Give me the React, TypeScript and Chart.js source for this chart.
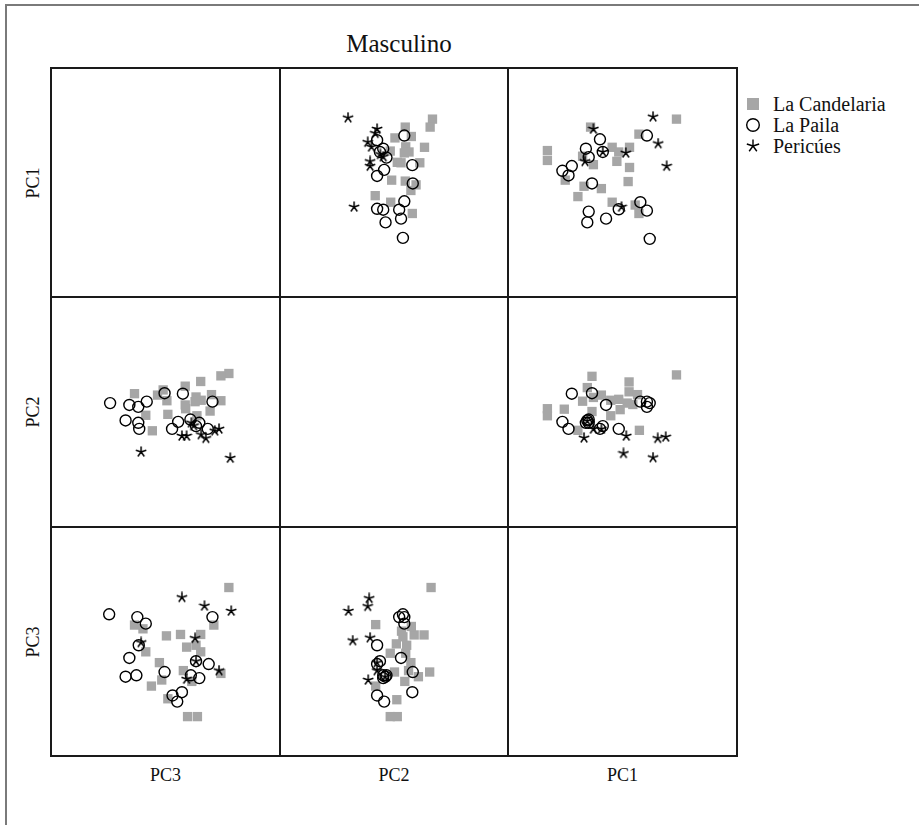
import React, { useEffect, useRef } from "react";
import { Chart, registerables } from "chart.js";
Chart.register(...registerables);

type Pair = [number, number];

// ---------------- data ----------------
const title = "Masculino";
const groups = ["La Candelaria", "La Paila", "Pericúes"];
const rowVars = ["PC1", "PC2", "PC3"]; // variable on the y axis of each row
const colVars = ["PC1", "PC2", "PC3"]; // variable on the x axis of each column
const colLabels = ["PC3", "PC2", "PC1"]; // labels printed under the columns

// PC2 (x) vs PC1 (y)
const candelariaPC2PC1: Pair[] = [
  [0.82, 1.35], [0.77, 1.18], [0.24, 1.18], [0.02, 0.95], [0.37, 0.98], [0.65, 0.75],
  [0.25, 0.76], [0.22, 0.63], [0.32, 0.65], [-0.08, 0.67], [0.07, 0.43], [0.15, 0.42],
  [0.55, 0.42], [-0.05, 0.05], [0.24, 0.03], [0.47, -0.05], [0.36, -0.17], [-0.4, -0.28],
  [-0.07, -0.42], [0.39, -0.66],
];
const pailaPC2PC1: Pair[] = [
  [0.22, 1.0], [-0.36, 0.9], [-0.23, 0.72], [-0.3, 0.65], [-0.16, 0.53], [0.39, 0.37],
  [-0.21, 0.27], [-0.36, 0.14], [0.4, -0.02], [0.22, -0.4], [-0.36, -0.56], [-0.23, -0.58],
  [0.11, -0.58], [0.15, -0.77], [-0.18, -0.85], [0.19, -1.18],
];
const pericuesPC2PC1: Pair[] = [
  [-0.98, 1.38], [-0.36, 1.14], [-0.4, 1.05], [-0.56, 0.86], [-0.48, 0.76], [-0.29, 0.6],
  [-0.23, 0.55], [-0.51, 0.45], [-0.51, 0.35], [-0.85, -0.52],
];

// PC3 (x) vs PC1 (y)
const candelariaPC3PC1: Pair[] = [
  [1.15, 1.35], [-0.68, 1.18], [0.35, 1.03], [-1.6, 0.68], [-1.6, 0.47], [-0.22, 0.75],
  [-0.08, 0.65], [0.15, 0.75], [-0.12, 0.45], [-0.62, 0.38], [-0.85, 0.56], [0.15, 0.32],
  [-1.22, 0.05], [-0.82, -0.08], [-0.45, -0.13], [0.12, 0.02], [-0.95, -0.3], [-0.22, -0.42],
  [0.27, -0.48], [0.35, -0.66],
];
const pailaPC3PC1: Pair[] = [
  [0.52, 1.0], [-0.48, 0.92], [-0.78, 0.72], [-0.42, 0.65], [-0.72, 0.54], [-1.08, 0.35],
  [-1.28, 0.25], [-1.15, 0.15], [-0.65, -0.02], [0.38, -0.42], [0.52, -0.6], [-0.08, -0.57],
  [-0.72, -0.62], [-0.75, -0.85], [-0.35, -0.77], [0.58, -1.2],
];
const pericuesPC3PC1: Pair[] = [
  [0.65, 1.4], [-0.62, 1.14], [0.76, 0.83], [0.07, 0.63], [0.94, 0.35], [-0.8, 0.45],
  [-0.42, 0.65], [-0.02, -0.52],
];

// PC3 (x) vs PC2 (y)
const candelariaPC3PC2: Pair[] = [
  [-0.65, 0.76], [1.15, 0.79], [0.14, 0.64], [0.14, 0.43], [-0.75, 0.52], [-0.45, 0.36],
  [-0.62, 0.31], [-0.85, 0.23], [-0.25, 0.25], [-0.08, 0.27], [0.1, 0.19], [0.32, 0.37],
  [0.22, 0.16], [-0.05, 0.05], [-0.25, -0.08], [-0.65, 0.01], [-1.6, 0.07], [-1.6, -0.08],
  [-1.24, 0.06], [-0.95, -0.39], [0.36, -0.39],
];
const pailaPC3PC2: Pair[] = [
  [0.52, 0.22], [-0.48, -0.36], [-0.78, -0.23], [-0.42, -0.3], [-0.72, -0.16], [-1.08, 0.39],
  [-1.28, -0.21], [-1.15, -0.36], [-0.65, 0.4], [0.38, 0.22], [0.52, 0.11], [-0.08, -0.36],
  [-0.72, -0.23], [-0.35, 0.15], [-0.75, -0.18], [0.58, 0.19],
];
const pericuesPC3PC2: Pair[] = [
  [-0.82, -0.55], [0.08, -0.51], [0.02, -0.88], [0.65, -0.97], [0.75, -0.56], [0.92, -0.53],
  [-0.75, -0.19], [-0.45, -0.36], [-0.62, -0.36],
];

const pairSets: Record<string, Pair[][]> = {
  "PC2|PC1": [candelariaPC2PC1, pailaPC2PC1, pericuesPC2PC1],
  "PC3|PC1": [candelariaPC3PC1, pailaPC3PC1, pericuesPC3PC1],
  "PC3|PC2": [candelariaPC3PC2, pailaPC3PC2, pericuesPC3PC2],
};

function cellData(xVar: string, yVar: string): Pair[][] | null {
  if (xVar === yVar) return null;
  const direct = pairSets[`${xVar}|${yVar}`];
  if (direct) return direct;
  const rev = pairSets[`${yVar}|${xVar}`];
  return rev.map((list) => list.map(([a, b]) => [b, a] as Pair));
}

// ---------------- layout / style ----------------
const FONT = "'Liberation Serif', 'DejaVu Serif', serif";
const COL_EDGES = [51, 280, 508, 737];
const ROW_EDGES = [68, 297, 527, 756];
const PX_PER_UNIT = 50;
const GRAY = "#a6a6a6";

function starCanvas(size: number, lw: number): HTMLCanvasElement {
  const c = document.createElement("canvas");
  c.width = size;
  c.height = size;
  const ctx = c.getContext("2d")!;
  ctx.strokeStyle = "#000";
  ctx.lineWidth = lw;
  ctx.lineCap = "butt";
  const m = size / 2;
  const r = size / 2 - 0.5;
  ctx.beginPath();
  for (let k = 0; k < 5; k++) {
    const a = -Math.PI / 2 + (k * 2 * Math.PI) / 5;
    ctx.moveTo(m, m);
    ctx.lineTo(m + r * Math.cos(a), m + r * Math.sin(a));
  }
  ctx.stroke();
  return c;
}

function Cell({ r, c }: { r: number; c: number }) {
  const ref = useRef<HTMLCanvasElement>(null);
  const left = COL_EDGES[c];
  const top = ROW_EDGES[r];
  const w = COL_EDGES[c + 1] - COL_EDGES[c];
  const h = ROW_EDGES[r + 1] - ROW_EDGES[r];
  useEffect(() => {
    const data = cellData(colVars[c], rowVars[r]);
    if (!data || !ref.current) return;
    const star = starCanvas(12, 1.5);
    const rx = w / 2 / PX_PER_UNIT;
    const ry = h / 2 / PX_PER_UNIT;
    const chart = new Chart(ref.current, {
      type: "scatter",
      data: {
        datasets: [
          {
            label: groups[0],
            data: data[0].map(([x, y]) => ({ x, y })),
            pointStyle: "rect",
            pointRadius: 6.6,
            backgroundColor: GRAY,
            borderColor: GRAY,
            borderWidth: 0,
            order: 3,
          },
          {
            label: groups[1],
            data: data[1].map(([x, y]) => ({ x, y })),
            pointStyle: "circle",
            pointRadius: 5.5,
            backgroundColor: "rgba(0,0,0,0)",
            borderColor: "#000",
            borderWidth: 1.4,
            order: 2,
          },
          {
            label: groups[2],
            data: data[2].map(([x, y]) => ({ x, y })),
            pointStyle: star,
            pointRadius: 6,
            backgroundColor: "#000",
            borderColor: "#000",
            order: 1,
          },
        ],
      },
      options: {
        animation: false,
        responsive: false,
        maintainAspectRatio: false,
        events: [],
        layout: { padding: 0 },
        plugins: { legend: { display: false }, tooltip: { enabled: false }, title: { display: false } },
        scales: {
          x: { type: "linear", display: false, min: -rx, max: rx },
          y: { type: "linear", display: false, min: -ry, max: ry },
        },
      },
    });
    return () => chart.destroy();
  }, []);
  return (
    <canvas
      ref={ref}
      width={w}
      height={h}
      style={{ position: "absolute", left, top, width: w, height: h }}
    />
  );
}

function LegendMarker({ kind }: { kind: number }) {
  const ref = useRef<HTMLCanvasElement>(null);
  useEffect(() => {
    const cv = ref.current;
    if (!cv) return;
    const ctx = cv.getContext("2d")!;
    ctx.clearRect(0, 0, 16, 16);
    if (kind === 0) {
      ctx.fillStyle = GRAY;
      ctx.fillRect(2, 2, 12, 12);
    } else if (kind === 1) {
      ctx.strokeStyle = "#000";
      ctx.lineWidth = 1.4;
      ctx.beginPath();
      ctx.arc(8, 8, 6.3, 0, Math.PI * 2);
      ctx.stroke();
    } else {
      ctx.drawImage(starCanvas(14, 1.4), 1, 1);
    }
  }, []);
  return <canvas ref={ref} width={16} height={16} style={{ position: "absolute", left: -8, top: -8 }} />;
}

export default function App() {
  const lines: React.ReactNode[] = [];
  ROW_EDGES.forEach((y, i) =>
    lines.push(
      <div key={"h" + i} style={{ position: "absolute", left: COL_EDGES[0] - 1, top: y - 1, width: COL_EDGES[3] - COL_EDGES[0] + 2, height: 2, background: "#1a1a1a" }} />
    )
  );
  COL_EDGES.forEach((x, i) =>
    lines.push(
      <div key={"v" + i} style={{ position: "absolute", left: x - 1, top: ROW_EDGES[0] - 1, width: 2, height: ROW_EDGES[3] - ROW_EDGES[0] + 2, background: "#1a1a1a" }} />
    )
  );
  const cells: React.ReactNode[] = [];
  for (let r = 0; r < 3; r++) for (let c = 0; c < 3; c++) cells.push(<Cell key={`c${r}${c}`} r={r} c={c} />);

  const legendY = [104, 125, 146];
  return (
    <div style={{ position: "absolute", left: 0, top: 0, width: 919, height: 825, background: "#fff", overflow: "hidden", fontFamily: FONT, color: "#111" }}>
      {/* outer frame (top and left edges) */}
      <div style={{ position: "absolute", left: 5, top: 4, width: 940, height: 900, borderTop: "2px solid #7a7a7a", borderLeft: "2px solid #7a7a7a" }} />
      <div style={{ position: "absolute", left: 399, top: 44, transform: "translate(-50%, -50%)", fontSize: 25, whiteSpace: "nowrap" }}>{title}</div>
      {cells}
      {lines}
      {rowVars.map((v, i) => (
        <div key={"rl" + i} style={{ position: "absolute", left: 33, top: (ROW_EDGES[i] + ROW_EDGES[i + 1]) / 2, transform: "translate(-50%, -50%) rotate(-90deg)", fontSize: 18, whiteSpace: "nowrap" }}>{v}</div>
      ))}
      {colLabels.map((v, i) => (
        <div key={"cl" + i} style={{ position: "absolute", left: (COL_EDGES[i] + COL_EDGES[i + 1]) / 2, top: 775, transform: "translate(-50%, -50%)", fontSize: 18, whiteSpace: "nowrap" }}>{v}</div>
      ))}
      {groups.map((g, i) => (
        <div key={"lg" + i}>
          <div style={{ position: "absolute", left: 753, top: legendY[i], width: 0, height: 0 }}>
            <LegendMarker kind={i} />
          </div>
          <div style={{ position: "absolute", left: 773, top: legendY[i], transform: "translateY(-50%)", fontSize: 20, whiteSpace: "nowrap" }}>{g}</div>
        </div>
      ))}
    </div>
  );
}
